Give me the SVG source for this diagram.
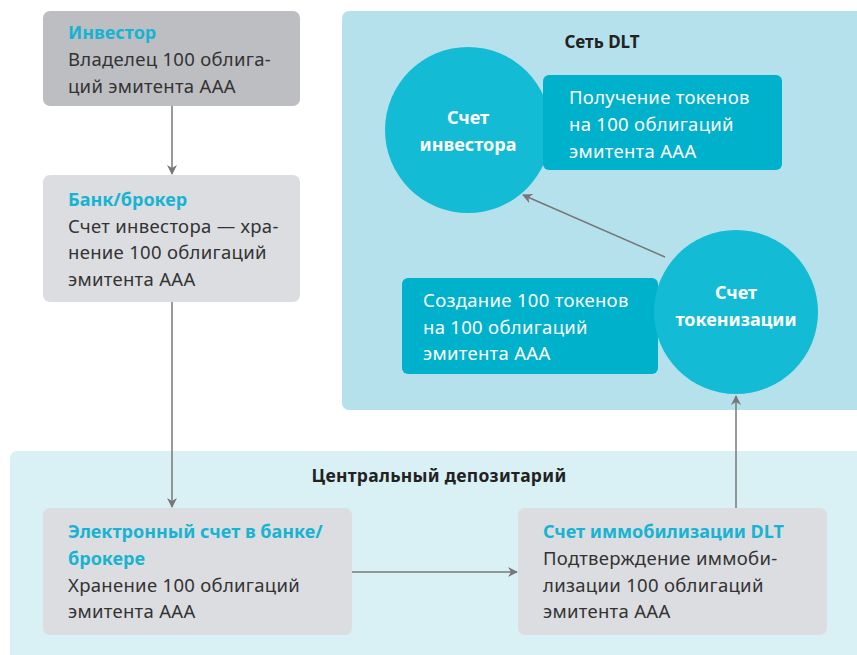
<svg xmlns="http://www.w3.org/2000/svg" width="857" height="655" viewBox="0 0 857 655">
<defs>
<style>
text{font-family:"Noto Sans","Open Sans",sans-serif;font-size:18.5px;letter-spacing:0.3px;fill:#333;}
.t{font-weight:bold;fill:#16b4d2;font-size:18px;letter-spacing:0;}
.h{font-weight:bold;font-size:17px;letter-spacing:0;fill:#222;}
.h2{font-weight:bold;font-size:17.5px;letter-spacing:0.3px;fill:#222;}
.w{fill:#fff;}
.wb{fill:#fff;font-weight:bold;font-size:18px;letter-spacing:0;}
.box{fill:#dcdde0;}
.cir{fill:#13bbd4;}
.tb{fill:#00b1cc;}
.c{stroke:#777;stroke-width:1.5;fill:none;marker-end:url(#a);}
</style>
<marker id="a" viewBox="0 0 10 10" refX="9" refY="5" markerWidth="10" markerHeight="10" markerUnits="userSpaceOnUse" orient="auto">
<path d="M0,0 L10,5 L0,10 L3,5 Z" fill="#777"/>
</marker>
</defs>
<rect x="0" y="0" width="857" height="655" fill="#fff"/>
<g id="dlt-panel">
<rect x="342" y="11" width="525" height="399" rx="7" fill="#b5e1ec"/>
<text class="h" x="602" y="48" text-anchor="middle">Сеть DLT</text>
</g>
<g id="csd-panel">
<rect x="10" y="451" width="857" height="214" rx="7" fill="#d9f0f4"/>
<text class="h2" x="439" y="482" text-anchor="middle">Центральный депозитарий</text>
</g>
<g id="connectors">
<line class="c" x1="172" y1="106" x2="172" y2="174"/>
<line class="c" x1="172" y1="302" x2="172" y2="507"/>
<line class="c" x1="352" y1="572" x2="517" y2="572"/>
<line class="c" x1="736" y1="508" x2="736" y2="396"/>
<line class="c" x1="665" y1="257" x2="523" y2="195"/>
</g>
<g id="investor">
<rect x="43" y="11" width="257" height="95" rx="7" fill="#bdbec2"/>
<text class="t" x="68" y="39">Инвестор</text>
<text x="68" y="66">Владелец 100 облига-</text>
<text x="68" y="93">ций эмитента AAA</text>
</g>
<g id="bank">
<rect class="box" x="43" y="175" width="257" height="127" rx="7"/>
<text class="t" x="68" y="206">Банк/брокер</text>
<text x="68" y="233">Счет инвестора — хра-</text>
<text x="68" y="259">нение 100 облигаций</text>
<text x="68" y="286">эмитента AAA</text>
</g>
<g id="investor-account">
<circle class="cir" cx="468" cy="130" r="83"/>
<text class="wb" x="468" y="124" text-anchor="middle">Счет</text>
<text class="wb" x="468" y="151" text-anchor="middle">инвестора</text>
</g>
<g id="receive-tokens">
<rect class="tb" x="543" y="75" width="239" height="95" rx="6"/>
<text class="w" x="569" y="104">Получение токенов</text>
<text class="w" x="569" y="131">на 100 облигаций</text>
<text class="w" x="569" y="158">эмитента AAA</text>
</g>
<g id="create-tokens">
<rect class="tb" x="402" y="278" width="256" height="96" rx="6"/>
<text class="w" x="423" y="307">Создание 100 токенов</text>
<text class="w" x="423" y="334">на 100 облигаций</text>
<text class="w" x="423" y="360">эмитента AAA</text>
</g>
<g id="tokenization-account">
<circle class="cir" cx="736" cy="312" r="82"/>
<text class="wb" x="736" y="299" text-anchor="middle">Счет</text>
<text class="wb" x="736" y="326" text-anchor="middle">токенизации</text>
</g>
<g id="electronic-account">
<rect class="box" x="43" y="508" width="309" height="127" rx="7"/>
<text class="t" x="68" y="538">Электронный счет в банке/</text>
<text class="t" x="68" y="565">брокере</text>
<text x="68" y="592">Хранение 100 облигаций</text>
<text x="68" y="618">эмитента AAA</text>
</g>
<g id="immobilization-account">
<rect class="box" x="518" y="508" width="309" height="127" rx="7"/>
<text class="t" x="543" y="538">Счет иммобилизации DLT</text>
<text x="543" y="565">Подтверждение иммоби-</text>
<text x="543" y="592">лизации 100 облигаций</text>
<text x="543" y="618">эмитента AAA</text>
</g>
</svg>
